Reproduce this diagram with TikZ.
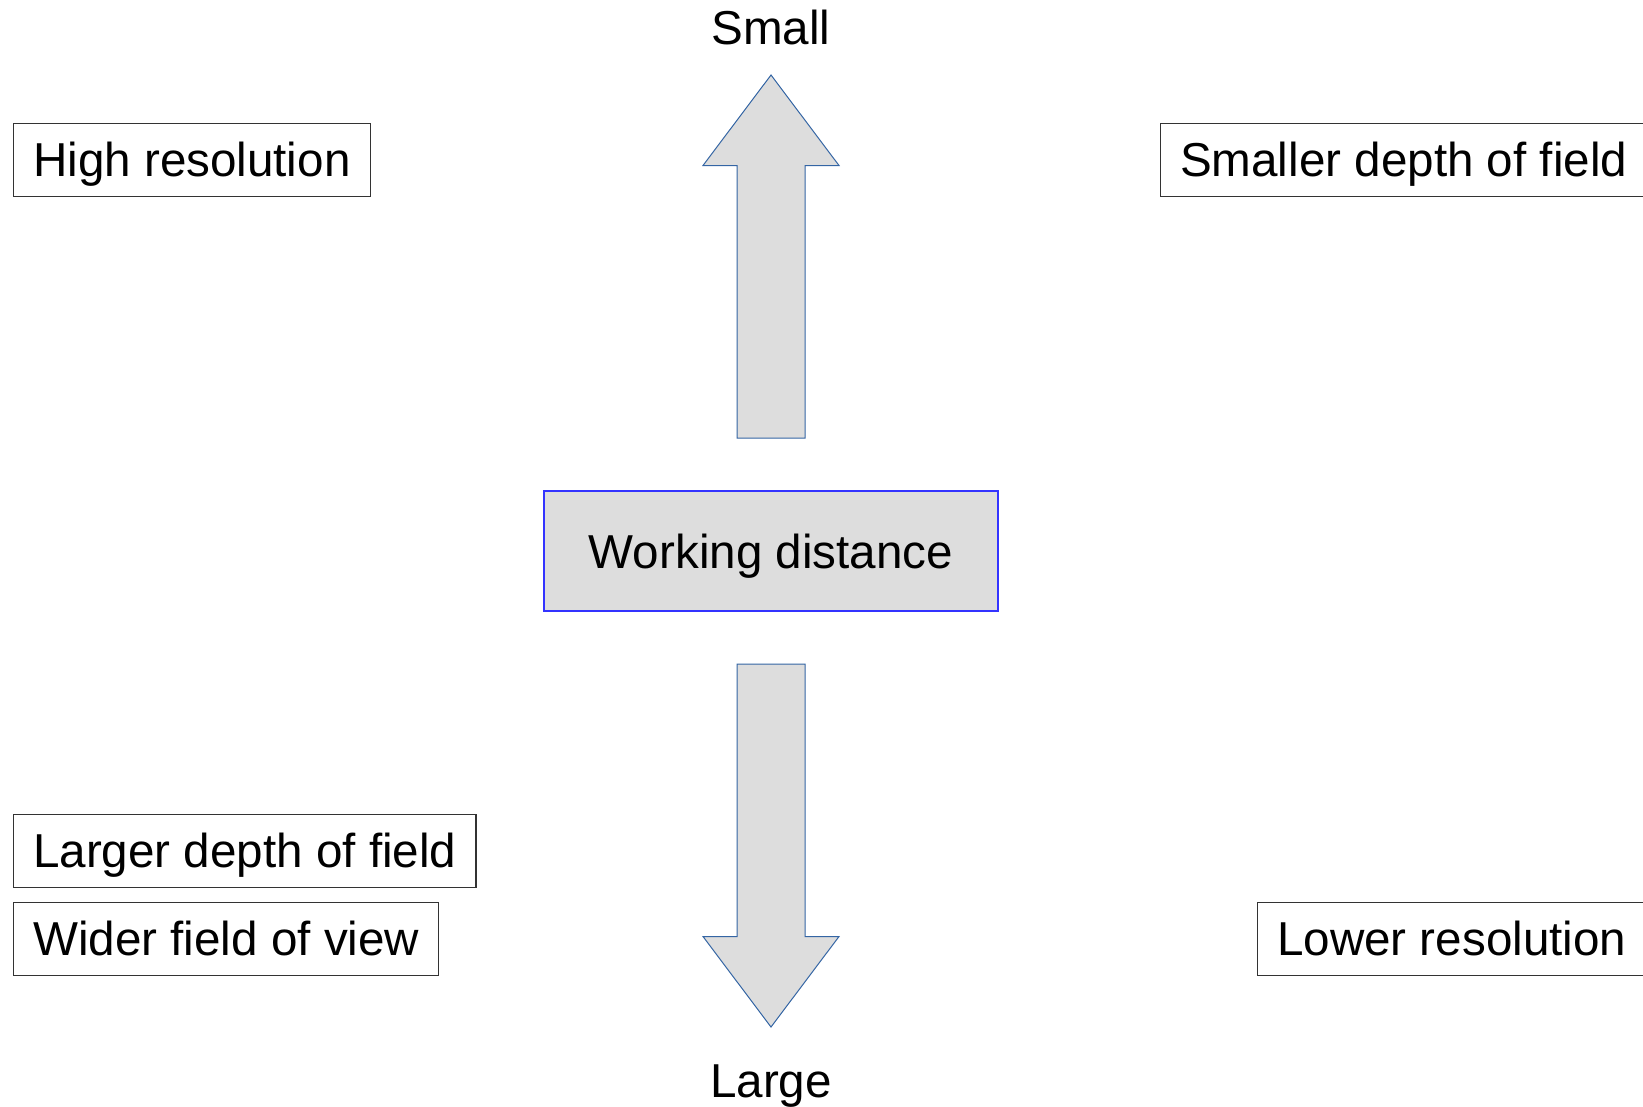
\documentclass[tikz,border=0pt]{standalone}
\usepackage{fontspec}
\setmainfont{Liberation Sans}
\definecolor{arrowfill}{HTML}{DDDDDD}
\definecolor{arrowline}{HTML}{3465A4}
\definecolor{wdline}{HTML}{3333FF}

\tikzset{
    label box/.style={draw=black!80, line width=1.2pt, anchor=north west,
        inner xsep=19.5pt, inner ysep=0pt, minimum height=72.6pt,
        text height=34pt, text depth=0pt},
    end label/.style={inner sep=0pt, text height=34pt, text depth=0pt},
    block arrow/.style={fill=arrowfill, draw=arrowline, line width=1pt, line join=miter}
}

\begin{document}
\begin{tikzpicture}[x=1pt, y=-1pt, font=\fontsize{47.6}{56}\selectfont]
    \useasboundingbox (0,0) rectangle (1643,1106);

    \node[draw=wdline, fill=arrowfill, line width=1.2pt, minimum width=454pt,
        minimum height=120pt, inner sep=0pt, text height=34pt, text depth=0pt]
        (wd) at (771,551) {Working distance};

    \node[end label] (small) at (771,27.5) {Small};
    \node[end label] (large) at (771,1080.5) {Large};

    % up and down block arrows
    \draw[block arrow] (771,75) -- (839,165.5) -- (805,165.5) -- (805,438)
        -- (737,438) -- (737,165.5) -- (703,165.5) -- cycle;
    \draw[block arrow] (771,1027) -- (839,936.5) -- (805,936.5) -- (805,664)
        -- (737,664) -- (737,936.5) -- (703,936.5) -- cycle;

    \node[label box] (hires) at (13,123) {High resolution};
    \node[label box] (smalldof) at (1160,123) {Smaller depth of field};
    \node[label box] (largedof) at (13,814) {Larger depth of field};
    \node[label box] (widefov) at (13,902) {Wider field of view};
    \node[label box] (lowres) at (1257,902) {Lower resolution};

\end{tikzpicture}
\end{document}
